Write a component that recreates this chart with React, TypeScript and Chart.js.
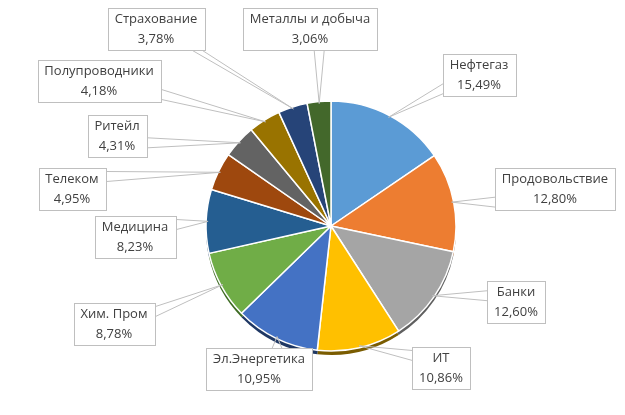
import React, { useEffect, useRef } from 'react';
import { Chart, registerables } from 'chart.js';

Chart.register(...registerables);

// ---- data ----
const categories = [
  'Нефтегаз', 'Продовольствие', 'Банки', 'ИТ', 'Эл.Энергетика', 'Хим. Пром',
  'Медицина', 'Телеком', 'Ритейл', 'Полупроводники', 'Страхование', 'Металлы и добыча',
];
const shares = [15.49, 12.8, 12.6, 10.86, 10.95, 8.78, 8.23, 4.95, 4.31, 4.18, 3.78, 3.06];

// ---- styles ----
const sliceColors = [
  '#5b9bd5', '#ed7d31', '#a5a5a5', '#ffc000', '#4472c4', '#70ad47',
  '#255e91', '#9e480e', '#636363', '#997300', '#264478', '#43682b',
];
const depthColors = [
  '#2f5f8c', '#8e4511', '#5f5f5f', '#7a5c00', '#1f3864', '#3d6b22',
  '#163a5c', '#5c2906', '#3a3a3a', '#5c4500', '#14284a', '#263d18',
];
// label box centres, as offsets from the pie centre (layout only)
const labelOffsets: [number, number][] = [
  [148, -151], [224, -37], [185, 76], [110, 142], [-72, 143], [-217, 98],
  [-196, 11], [-259, -37], [-214, -90], [-232, -145], [-175, -197], [-21, -197],
];

const FONT = '13px "Open Sans"';
const TEXT_COLOR = '#404040';
const LINE_COLOR = '#bfbfbf';

const fmt = (v: number) => v.toFixed(2).replace('.', ',') + '%';

const depthPlugin = {
  id: 'depth',
  beforeDatasetsDraw(chart: any) {
    const ctx = chart.ctx;
    const meta = chart.getDatasetMeta(0);
    ctx.save();
    meta.data.forEach((arc: any, i: number) => {
      const { x, y, startAngle, endAngle, outerRadius } = arc.getProps(
        ['x', 'y', 'startAngle', 'endAngle', 'outerRadius'], true);
      ctx.beginPath();
      ctx.moveTo(x, y + 4);
      ctx.arc(x, y + 4, outerRadius, startAngle, endAngle);
      ctx.closePath();
      ctx.fillStyle = depthColors[i];
      ctx.fill();
    });
    ctx.restore();
  },
};

const labelPlugin = {
  id: 'calloutLabels',
  afterDatasetsDraw(chart: any) {
    const ctx = chart.ctx;
    const meta = chart.getDatasetMeta(0);
    ctx.save();
    ctx.font = FONT;
    meta.data.forEach((arc: any, i: number) => {
      const { x, y, startAngle, endAngle, outerRadius } = arc.getProps(
        ['x', 'y', 'startAngle', 'endAngle', 'outerRadius'], true);
      const mid = (startAngle + endAngle) / 2;
      const ax = x + Math.cos(mid) * (outerRadius - 2);
      const ay = y + Math.sin(mid) * (outerRadius - 2);
      const line1 = categories[i];
      const line2 = fmt(shares[i]);
      const w = Math.round(Math.max(ctx.measureText(line1).width, ctx.measureText(line2).width) + 14);
      const h = 42;
      const cx = x + labelOffsets[i][0];
      const cy = y + labelOffsets[i][1];
      const left = Math.round(cx - w / 2) + 0.5;
      const top = Math.round(cy - h / 2) + 0.5;
      const right = left + w;
      const bottom = top + h;
      // leader wedge
      const dx = ax - cx;
      const dy = ay - cy;
      let p1: [number, number];
      let p2: [number, number];
      const hw = 5;
      if (Math.abs(dx) / (w / 2) > Math.abs(dy) / (h / 2)) {
        const sx = dx > 0 ? right : left;
        const by = Math.min(Math.max(ay, top + 8), bottom - 8);
        p1 = [sx, by - hw];
        p2 = [sx, by + hw];
      } else {
        const sy = dy > 0 ? bottom : top;
        const bx = Math.min(Math.max(ax, left + 8), right - 8);
        p1 = [bx - hw, sy];
        p2 = [bx + hw, sy];
      }
      ctx.strokeStyle = LINE_COLOR;
      ctx.lineWidth = 1;
      ctx.beginPath();
      ctx.moveTo(p1[0], p1[1]);
      ctx.lineTo(ax, ay);
      ctx.lineTo(p2[0], p2[1]);
      ctx.stroke();
      // box
      ctx.fillStyle = '#ffffff';
      ctx.fillRect(left, top, w, h);
      ctx.strokeRect(left, top, w, h);
      // text
      ctx.fillStyle = TEXT_COLOR;
      ctx.textAlign = 'center';
      ctx.textBaseline = 'middle';
      ctx.fillText(line1, cx, top + 11);
      ctx.fillText(line2, cx, top + 31);
    });
    ctx.restore();
  },
};

export default function App() {
  const ref = useRef<HTMLCanvasElement | null>(null);
  useEffect(() => {
    if (!ref.current) return;
    const chart = new Chart(ref.current, {
      type: 'pie',
      data: {
        labels: categories,
        datasets: [
          {
            data: shares,
            backgroundColor: sliceColors,
            borderColor: '#ffffff',
            borderWidth: 1.5,
          },
        ],
      },
      options: {
        responsive: false,
        animation: false,
        devicePixelRatio: 1,
        radius: 125,
        layout: { padding: { left: 37, top: 37, right: 0, bottom: 0 } },
        plugins: {
          legend: { display: false },
          tooltip: { enabled: false },
        },
      },
      plugins: [depthPlugin, labelPlugin],
    });
    return () => chart.destroy();
  }, []);
  return (
    <div style={{ position: 'absolute', left: 0, top: 0, width: 625, height: 415, background: '#fff' }}>
      <canvas ref={ref} width={625} height={415} />
    </div>
  );
}
